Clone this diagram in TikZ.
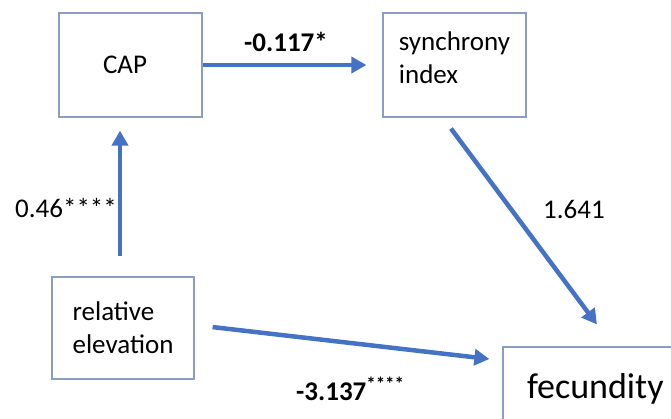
\documentclass[tikz,border=0pt]{standalone}
\usepackage{fontspec}
\setmainfont{Carlito}
\usetikzlibrary{arrows.meta,calc}
\definecolor{arrblue}{RGB}{68,114,196}
\definecolor{boxgray}{RGB}{140,158,192}
\begin{document}
\begin{tikzpicture}[x=1pt,y=-1pt,
  box/.style={draw=boxgray, line width=1.2pt, rectangle, inner sep=0pt, font=\fontsize{27}{33}\selectfont},
  arr/.style={draw=arrblue, line width=4.5pt, -{Triangle[length=15pt,width=16pt]}},
  lab/.style={font=\fontsize{27}{33}\selectfont, inner sep=0pt, anchor=base west},
  blab/.style={lab, font=\bfseries\fontsize{27}{33}\selectfont},
]
\useasboundingbox (0,0) rectangle (671,418);
\begin{scope}
\clip (0,0) rectangle (671,418);
\node[box, minimum width=143pt, minimum height=104pt, text width=55pt, align=left] (cap) at (130.5,65) {CAP};
\node[box, minimum width=143pt, minimum height=104pt] (sync) at (454.5,65)
  {\raisebox{5pt}[\height][\depth]{\begin{tabular}{@{}l@{}}synchrony\\index\end{tabular}}};
\node[box, minimum width=142pt, minimum height=102pt, align=left] (rel) at (123,328) {relative\\elevation};
\node[box, minimum width=240pt, minimum height=84pt, text width=192pt, align=left, font=\fontsize{36}{43}\selectfont] (fec) at (623,389) {fecundity};
\end{scope}
\coordinate (relup) at ([xshift=-3pt]rel.north);
\draw[arr, shorten >=16pt] (cap.east) -- (sync.west);
\draw[arr, shorten <=20pt, shorten >=13pt] (relup) -- (relup |- cap.south);
\draw[arr, shorten <=13.7pt, shorten >=27.4pt] ([xshift=-11.7pt]sync.south) -- ([xshift=-9.7pt]fec.north);
\draw[arr, shorten <=18.1pt, shorten >=13.1pt] ([yshift=3pt]rel.east) -- ([yshift=28.5pt]fec.west);
\node[blab] (l1) at (244,51) {-0.117*};
\node[lab] (l2) at (15,217) {0.46****};
\node[lab] (l3) at (543,218) {1.641};
\node[blab] (l4) at (296,400) {-3.137\textsuperscript{****}};
\end{tikzpicture}
\end{document}
